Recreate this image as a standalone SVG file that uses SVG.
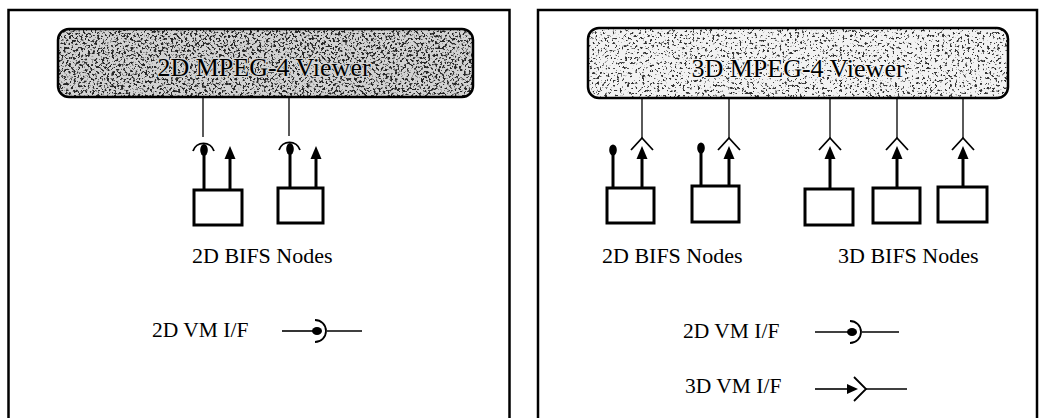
<svg xmlns="http://www.w3.org/2000/svg" width="1045" height="418" viewBox="0 0 1045 418">
  <style>
    .panel { fill: #ffffff; stroke: #000; stroke-width: 2.5; }
    .viewer-edge { fill: none; stroke: #000; stroke-width: 2.5; }
    .viewer-title { font-family: "Liberation Serif", "Times New Roman", serif; font-size: 26px; fill: #000; text-anchor: middle; stroke-width: 2.5; paint-order: stroke; stroke-linejoin: round; }
    .label { font-family: "Liberation Serif", "Times New Roman", serif; font-size: 22px; fill: #000; }
    .legend { font-family: "Liberation Serif", "Times New Roman", serif; font-size: 21.5px; fill: #000; }
    .node { fill: #fff; stroke: #000; stroke-width: 3; }
    .wire { stroke: #000; stroke-width: 1.3; fill: none; }
    .stem { stroke: #000; stroke-width: 3; fill: none; }
    .thin { stroke: #000; stroke-width: 1.6; fill: none; }
    .socket { stroke: #000; stroke-width: 1.8; fill: none; }
    .dot { fill: #000; }
  </style>
  <defs>
    <!-- speckled grey fill for the viewer bars -->
    <filter id="grainDense" x="0" y="0" width="100%" height="100%" color-interpolation-filters="sRGB">
      <feTurbulence type="fractalNoise" baseFrequency="0.42" numOctaves="4" seed="7" result="noise"/>
      <feColorMatrix in="noise" type="matrix" values="0 0 0 0 0.15  0 0 0 0 0.15  0 0 0 0 0.15  9 0 0 0 -4.7" result="specks"/>
      <feComposite in="specks" in2="SourceAlpha" operator="in" result="clipped"/>
      <feMerge><feMergeNode in="SourceGraphic"/><feMergeNode in="clipped"/></feMerge>
    </filter>
    <filter id="grainLight" x="0" y="0" width="100%" height="100%" color-interpolation-filters="sRGB">
      <feTurbulence type="fractalNoise" baseFrequency="0.4" numOctaves="4" seed="11" result="noise"/>
      <feColorMatrix in="noise" type="matrix" values="0 0 0 0 0.2  0 0 0 0 0.2  0 0 0 0 0.2  10 0 0 0 -5.9" result="specks"/>
      <feComposite in="specks" in2="SourceAlpha" operator="in" result="clipped"/>
      <feMerge><feMergeNode in="SourceGraphic"/><feMergeNode in="clipped"/></feMerge>
    </filter>
    <marker id="head" markerUnits="userSpaceOnUse" markerWidth="14" markerHeight="12" refX="0" refY="6" orient="auto">
      <path d="M0,0.5 L13,6 L0,11.5 z" fill="#000"/>
    </marker>
    <marker id="headSmall" markerUnits="userSpaceOnUse" markerWidth="12" markerHeight="10" refX="0" refY="5" orient="auto">
      <path d="M0,0 L11,5 L0,10 z" fill="#000"/>
    </marker>
  </defs>

  <!-- left panel: 2D viewer -->
  <g id="panel-2d">
    <rect class="panel" x="8.5" y="10" width="501" height="430"/>
  </g>
  <g id="viewer-2d">
    <rect x="58" y="29" width="415" height="68" rx="11" fill="#d2d2d2" filter="url(#grainDense)"/>
    <rect class="viewer-edge" x="58" y="29" width="415" height="68" rx="11"/>
    <text class="viewer-title" x="264" y="76" stroke="#d6d6d6">2D MPEG-4 Viewer</text>
  </g>
  <g id="node-2d-a">
    <rect class="node" x="194" y="190" width="48" height="35"/>
  </g>
  <g id="node-2d-b">
    <rect class="node" x="278" y="188" width="45" height="35"/>
  </g>
  <g id="label-2d-nodes-left">
    <text class="label" x="192" y="263">2D BIFS Nodes</text>
  </g>
  <g id="legend-2d-left">
    <text class="legend" x="152" y="337">2D VM I/F</text>
    <line class="thin" x1="282" y1="331" x2="313" y2="331"/>
    <ellipse class="dot" cx="317" cy="331" rx="5" ry="4"/>
    <path class="socket" d="M315,320 A11,11 0 0 1 315,342"/>
    <line class="thin" x1="327" y1="331" x2="362" y2="331"/>
  </g>

  <!-- right panel: 3D viewer -->
  <g id="panel-3d">
    <rect class="panel" x="538" y="10" width="499" height="430"/>
  </g>
  <g id="viewer-3d">
    <rect x="588" y="28" width="420" height="70" rx="11" fill="#f2f2f2" filter="url(#grainLight)"/>
    <rect class="viewer-edge" x="588" y="28" width="420" height="70" rx="11"/>
    <text class="viewer-title" x="798" y="77" stroke="#f4f4f4">3D MPEG-4 Viewer</text>
  </g>
  <g id="node-3d-a"><rect class="node" x="607" y="188" width="47" height="35"/></g>
  <g id="node-3d-b"><rect class="node" x="692" y="186" width="47" height="36"/></g>
  <g id="node-3d-c"><rect class="node" x="805" y="189" width="48" height="36"/></g>
  <g id="node-3d-d"><rect class="node" x="873" y="188" width="47" height="35"/></g>
  <g id="node-3d-e"><rect class="node" x="938" y="187" width="49" height="35"/></g>
  <g id="label-2d-nodes-right">
    <text class="label" x="602" y="263">2D BIFS Nodes</text>
  </g>
  <g id="label-3d-nodes">
    <text class="label" x="838" y="263">3D BIFS Nodes</text>
  </g>
  <g id="legend-2d-right">
    <text class="legend" x="683" y="338">2D VM I/F</text>
    <line class="thin" x1="815" y1="332" x2="848" y2="332"/>
    <ellipse class="dot" cx="852" cy="332" rx="5" ry="4"/>
    <path class="socket" d="M850,321 A11,11 0 0 1 850,343"/>
    <line class="thin" x1="862" y1="332" x2="899" y2="332"/>
  </g>
  <g id="legend-3d-right">
    <text class="legend" x="685" y="393">3D VM I/F</text>
    <line class="thin" x1="815" y1="389" x2="847" y2="389" marker-end="url(#headSmall)"/>
    <polyline class="socket" points="854,377 866,389 854,401"/>
    <line class="thin" x1="866" y1="389" x2="907" y2="389"/>
  </g>

  <!-- connectors between the viewers and the node boxes -->
  <g id="connectors">
    <!-- left panel: 2D VM interface sockets -->
    <line class="wire" x1="203" y1="97" x2="203" y2="137"/>
    <path class="socket" d="M193,151 A11,11 0 0 1 214,151"/>
    <ellipse class="dot" cx="204" cy="150" rx="3.8" ry="6"/>
    <line class="stem" x1="204" y1="155" x2="204" y2="190"/>
    <line class="stem" x1="230" y1="190" x2="230" y2="159" marker-end="url(#head)"/>

    <line class="wire" x1="289" y1="97" x2="289" y2="136"/>
    <path class="socket" d="M279,150 A11,11 0 0 1 300,150"/>
    <ellipse class="dot" cx="290" cy="149" rx="3.8" ry="6"/>
    <line class="stem" x1="290" y1="154" x2="290" y2="188"/>
    <line class="stem" x1="316" y1="188" x2="316" y2="159" marker-end="url(#head)"/>

    <!-- right panel: 2D nodes (dot stems) -->
    <ellipse class="dot" cx="613" cy="150" rx="3.8" ry="5.5"/>
    <line class="stem" x1="613" y1="153" x2="613" y2="188"/>
    <ellipse class="dot" cx="701" cy="148" rx="3.8" ry="5.5"/>
    <line class="stem" x1="701" y1="151" x2="701" y2="186"/>

    <!-- right panel: 3D VM interface chevrons -->
    <line class="wire" x1="642" y1="98" x2="642" y2="138"/>
    <polyline class="socket" points="631,150 642,138 653,150"/>
    <line class="stem" x1="642" y1="188" x2="642" y2="159" marker-end="url(#head)"/>

    <line class="wire" x1="729" y1="98" x2="729" y2="138"/>
    <polyline class="socket" points="718,150 729,138 740,150"/>
    <line class="stem" x1="729" y1="186" x2="729" y2="159" marker-end="url(#head)"/>

    <line class="wire" x1="830" y1="98" x2="830" y2="138"/>
    <polyline class="socket" points="819,150 830,138 841,150"/>
    <line class="stem" x1="830" y1="189" x2="830" y2="159" marker-end="url(#head)"/>

    <line class="wire" x1="897" y1="98" x2="897" y2="138"/>
    <polyline class="socket" points="886,150 897,138 908,150"/>
    <line class="stem" x1="897" y1="188" x2="897" y2="159" marker-end="url(#head)"/>

    <line class="wire" x1="963" y1="98" x2="963" y2="138"/>
    <polyline class="socket" points="952,150 963,138 974,150"/>
    <line class="stem" x1="963" y1="187" x2="963" y2="159" marker-end="url(#head)"/>
  </g>
</svg>
